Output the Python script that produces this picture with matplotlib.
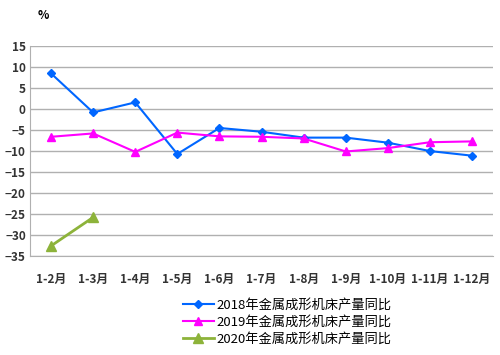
import matplotlib.pyplot as plt

plt.rcParams['font.family'] = ['Noto Sans CJK SC', 'DejaVu Sans']

months = ['1-2月', '1-3月', '1-4月', '1-5月', '1-6月', '1-7月',
          '1-8月', '1-9月', '1-10月', '1-11月', '1-12月']
y2018 = [8.5, -0.8, 1.6, -10.7, -4.5, -5.4, -6.8, -6.8, -8.0, -10.0, -11.1]
y2019 = [-6.6, -5.8, -10.2, -5.6, -6.5, -6.6, -7.0, -10.1, -9.3, -7.9, -7.7]
y2020 = [-32.6, -25.8]
labels = ['2018年金属成形机床产量同比', '2019年金属成形机床产量同比',
          '2020年金属成形机床产量同比']

fig = plt.figure(figsize=(5, 3.55), dpi=100)
ax = fig.add_axes([0.06, 0.279, 0.926, 0.591])

x = list(range(len(months)))
l1, = ax.plot(x, y2018, color='#0066ff', marker='D', markersize=4, lw=1.5)
l2, = ax.plot(x, y2019, color='#ff00ff', marker='^', markersize=6, lw=1.5)
l3, = ax.plot(x[:len(y2020)], y2020, color='#8db33a', marker='^', markersize=7, lw=2)

ax.set_xlim(-0.5, len(months) - 0.5)
ax.set_ylim(-35, 15)
ax.set_yticks(range(-35, 16, 5))
ax.set_xticks(x)
ax.set_xticklabels(months, fontsize=8.5, fontweight='bold', color='#333333')
for t in ax.get_yticklabels():
    t.set_fontsize(8.5)
    t.set_fontweight('bold')
    t.set_color('#333333')
ax.tick_params(axis='x', length=0, pad=12)
ax.tick_params(axis='y', length=0, pad=3)
ax.yaxis.grid(True, color='#b0b0b0', lw=1)
ax.set_axisbelow(True)
for s in ['top', 'right']:
    ax.spines[s].set_visible(False)
for s in ['left', 'bottom']:
    ax.spines[s].set_color('#b0b0b0')

fig.text(0.075, 0.955, '%', fontsize=8.5, fontweight='bold', ha='left', va='center')

fig.legend([l1, l2, l3], labels, loc='upper left', bbox_to_anchor=(0.365, 0.158),
           frameon=False, fontsize=9.5, handlelength=2.4, handletextpad=0.2,
           labelspacing=0.3, borderpad=0, borderaxespad=0)

fig.savefig('out.png')
